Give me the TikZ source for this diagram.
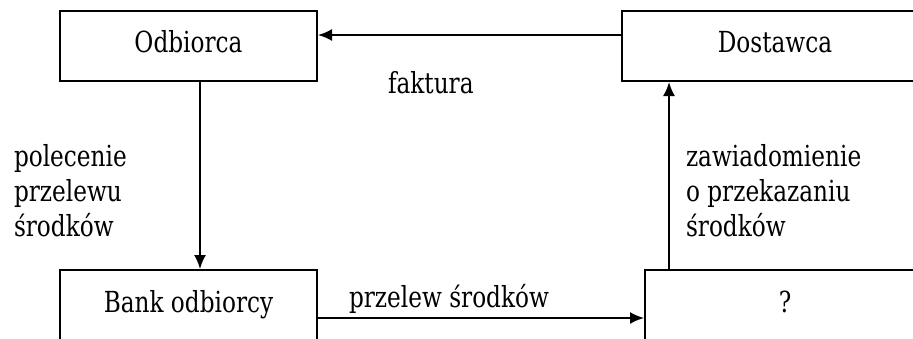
\documentclass[tikz,border=0pt]{standalone}
\usepackage{fontspec}
\setmainfont{DejaVu Serif}[FakeStretch=0.8]
\usetikzlibrary{positioning,arrows.meta}

\begin{document}
\begin{tikzpicture}[x=0.5pt, y=-0.5pt, font=\fontsize{14.5pt}{17.5pt}\selectfont,
	box/.style = {draw, line width=1pt, text height=10pt, text depth=4pt},
	arr/.style = {-{Latex[length=7pt, width=6pt]}, line width=1pt},
	lab/.style = {inner sep=0pt, align=left}]
	\useasboundingbox (0,0) rectangle (913,338);
	\clip (0,0) rectangle (913,338);
	\node[box, minimum width=128.5pt, minimum height=35pt] (odb) at (188.5,46) {Odbiorca};
	\node[box, minimum width=153pt, minimum height=35pt] (dost) [right=151.5pt of odb] {Dostawca};
	\node[box, minimum width=128.5pt, minimum height=36pt] (bank) [below=93.5pt of odb] {Bank odbiorcy};
	\node[box, minimum width=140pt, minimum height=36pt] (q) [right=163pt of bank] {?};
	\draw[arr] ([yshift=5.5pt]dost.west) -- ([yshift=5.5pt]odb.east) node[lab, midway, anchor=base west, xshift=-41.25pt, yshift=-29pt] (fakt) {faktura};
	\draw[arr] ([xshift=5.75pt]odb.south) -- ([xshift=5.75pt]bank.north) node[lab, midway, anchor=north west, xshift=-93.5pt, yshift=16pt] (pol) {polecenie\\przelewu\\środków};
	\draw[arr] ([yshift=-6pt]bank.east) -- ([yshift=-6pt]q.west) node[lab, midway, anchor=base west, xshift=-66.5pt, yshift=5.5pt] (prz) {przelew środków};
	\draw[arr] ([xshift=-58pt]q.north) -- ([xshift=-53pt]dost.south) node[lab, midway, anchor=north west, xshift=8pt, yshift=16.25pt] (zaw) {zawiadomienie\\o przekazaniu\\środków};
\end{tikzpicture}
\end{document}
